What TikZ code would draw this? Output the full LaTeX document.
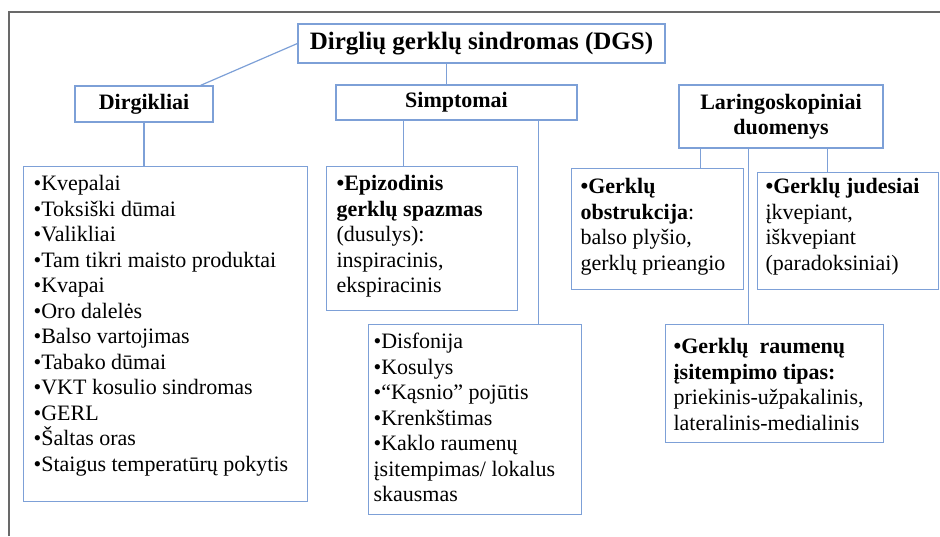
\documentclass[tikz,border=0pt]{standalone}
\usepackage{fontspec}
\setmainfont{Liberation Serif}
\usetikzlibrary{calc}
\definecolor{bbl}{RGB}{125,160,215}
\definecolor{frm}{RGB}{105,105,105}
\tikzset{
  box/.style={draw=bbl, line width=1.2pt, inner ysep=0pt, anchor=north west},
  head/.style={draw=bbl, line width=1.2pt, inner sep=0pt, align=center,
    font=\fontsize{22}{25}\selectfont\bfseries},
  conn/.style={draw=bbl, line width=1.2pt},
}
\newcommand\bt[4]{\parbox[c][#2][t]{#1}{\fontsize{22}{25.5}\selectfont\raggedright\rule{0pt}{#3}#4}}
\begin{document}
\begin{tikzpicture}[x=1pt,y=-1pt]
\useasboundingbox (0,0) rectangle (940,536);
\draw[frm, line width=1.5pt] (9,536) -- (9,12) -- (940,12);

\node[head, minimum width=367pt, minimum height=39pt, font=\fontsize{25}{28}\selectfont\bfseries]
  (title) at (481.5,43.5) {Dirglių gerklų sindromas (DGS)};
\node[head, minimum width=138pt, minimum height=36pt] (dirg) at (144,104) {Dirgikliai};
\node[head, minimum width=241pt, minimum height=35pt] (simp) at (456.5,102.5) {Simptomai};
\node[head, minimum width=204pt, minimum height=63pt] (lar) at (781,116.5) {Laringoskopiniai\\duomenys};

\node[box, inner xsep=10pt] (list) at (23,166) {\bt{264pt}{335pt}{24pt}{%
•Kvepalai\\•Toksiški dūmai\\•Valikliai\\•Tam tikri maisto produktai\\•Kvapai\\•Oro dalelės\\%
•Balso vartojimas\\•Tabako dūmai\\•VKT kosulio sindromas\\•GERL\\•Šaltas oras\\%
•Staigus temperatūrų pokytis}};

\node[box, inner xsep=10pt] (epi) at (326,166) {\bt{171pt}{144pt}{24pt}{%
\textbf{•Epizodinis\\gerklų spazmas}\\(dusulys):\\inspiracinis,\\ekspiracinis}};

\node[box, inner xsep=5pt] (dis) at (368,324) {\bt{203pt}{190pt}{24pt}{%
•Disfonija\\•Kosulys\\•“Kąsnio” pojūtis\\•Krenkštimas\\•Kaklo raumenų\\įsitempimas/ lokalus\\skausmas}};

\node[box, inner xsep=9pt] (obst) at (571,168) {\bt{154pt}{121pt}{25pt}{%
\textbf{•Gerklų\\obstrukcija}:\\balso plyšio,\\gerklų prieangio}};

\node[box, inner xsep=8pt] (jud) at (757,172) {\bt{165pt}{117pt}{21pt}{%
\textbf{•Gerklų judesiai}\\įkvepiant,\\iškvepiant\\(paradoksiniai)}};

\node[box, inner xsep=8pt] (raum) at (665,324) {\bt{202pt}{118pt}{29pt}{%
\textbf{•Gerklų\ \ raumenų\\įsitempimo tipas:}\\priekinis-užpakalinis,\\lateralinis-medialinis}};

\draw[conn] (title.west) -- ($(dirg.north west)!0.906!(dirg.north east)$);
\draw[conn] ($(title.south west)!0.405!(title.south east)$) coordinate (c1) -- (c1 |- simp.north);
\draw[conn] (dirg.south) -- (dirg.south |- list.north);
\draw[conn] ($(simp.south west)!0.282!(simp.south east)$) coordinate (c2) -- (c2 |- epi.north);
\draw[conn] ($(simp.south west)!0.838!(simp.south east)$) coordinate (c3) -- (c3 |- dis.north);
\draw[conn] ($(lar.south west)!0.108!(lar.south east)$) coordinate (c4) -- (c4 |- obst.north);
\draw[conn] ($(lar.south west)!0.343!(lar.south east)$) coordinate (c5) -- (c5 |- raum.north);
\draw[conn] ($(lar.south west)!0.725!(lar.south east)$) coordinate (c6) -- (c6 |- jud.north);
\end{tikzpicture}
\end{document}
